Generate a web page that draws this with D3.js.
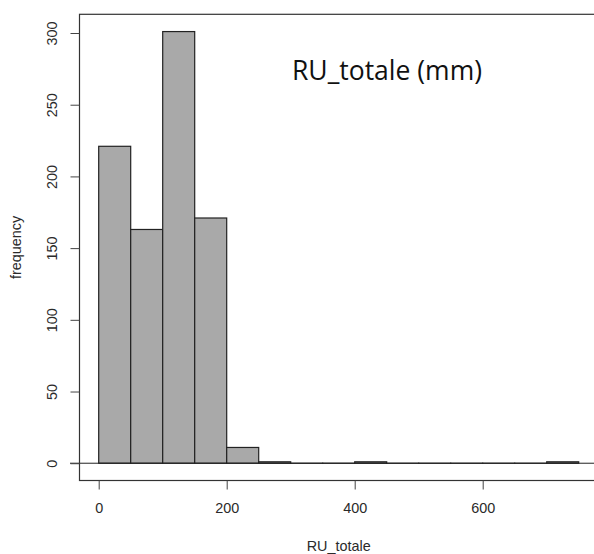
<!DOCTYPE html>
<html>
<head>
<meta charset="utf-8">
<script src="https://cdn.jsdelivr.net/npm/d3@7"></script>
<style>
  body { margin: 0; background: #fff; }
  svg { display: block; }
  .tick text { font-family: "Liberation Sans", Arial, sans-serif; font-size: 14.4px; fill: #2a2a2a; }
</style>
</head>
<body>
<div id="chart"></div>
<script>
// histogram bins (width 50) and counts
const breaks = [0, 50, 100, 150, 200, 250, 300, 350, 400, 450, 500, 550, 600, 650, 700, 750];
const counts = [221, 163, 301, 171, 11, 1, 0, 0, 1, 0, 0, 0, 0, 0, 1];
const xTicks = [0, 200, 400, 600];
const yTicks = [0, 50, 100, 150, 200, 250, 300];

const width = 594, height = 554;

const svg = d3.select('#chart').append('svg')
    .attr('width', width)
    .attr('height', height);

// R-style 4% extension of the ranges
const x = d3.scaleLinear()
    .domain([-30, 780])
    .range([79.5, 597.9]);
const y = d3.scaleLinear()
    .domain([-12.04, 313.04])
    .range([480.5, 14.3]);

const bins = counts.map((c, i) => ({ x0: breaks[i], x1: breaks[i + 1], n: c }));

// bars
svg.selectAll('rect.bar')
    .data(bins)
    .enter()
    .append('rect')
    .attr('class', 'bar')
    .attr('x', d => x(d.x0))
    .attr('y', d => y(d.n))
    .attr('width', d => x(d.x1) - x(d.x0))
    .attr('height', d => Math.max(0.01, y(0) - y(d.n)))
    .style('fill', '#a9a9a9')
    .style('stroke', '#222')
    .style('stroke-width', 1.2);

// zero line
svg.append('line')
    .attr('x1', 70).attr('x2', width)
    .attr('y1', y(0)).attr('y2', y(0))
    .style('stroke', '#222')
    .style('stroke-width', 1);

// box
svg.append('rect')
    .attr('x', x(-30))
    .attr('y', y(313.04))
    .attr('width', x(780) - x(-30))
    .attr('height', y(-12.04) - y(313.04))
    .style('fill', 'none')
    .style('stroke', '#333')
    .style('stroke-width', 1.2);

// y axis
const yAxis = svg.append('g')
    .attr('transform', 'translate(' + x(-30) + ',0)')
    .call(d3.axisLeft(y).tickValues(yTicks).tickSize(9).tickPadding(14));
yAxis.select('.domain').remove();
yAxis.selectAll('.tick line').style('stroke', '#444');
yAxis.selectAll('.tick text')
    .attr('transform', 'rotate(-90)')
    .attr('x', 0)
    .attr('y', -28)
    .attr('dy', '0.35em')
    .style('text-anchor', 'middle');

// x axis
const xAxis = svg.append('g')
    .attr('transform', 'translate(0,' + y(-12.04) + ')')
    .call(d3.axisBottom(x).tickValues(xTicks).tickSize(9).tickPadding(13));
xAxis.select('.domain').remove();
xAxis.selectAll('.tick line').style('stroke', '#444');

// axis titles
svg.append('text')
    .attr('x', (x(-30) + x(780)) / 2)
    .attr('y', 551)
    .style('text-anchor', 'middle')
    .style('font-family', '"Liberation Sans", Arial, sans-serif')
    .style('font-size', '14.4px')
    .style('fill', '#2a2a2a')
    .text('RU_totale');

svg.append('text')
    .attr('transform', 'translate(21,' + ((y(313.04) + y(-12.04)) / 2) + ') rotate(-90)')
    .style('text-anchor', 'middle')
    .style('font-family', '"Liberation Sans", Arial, sans-serif')
    .style('font-size', '14.4px')
    .style('fill', '#2a2a2a')
    .text('frequency');

// title
svg.append('text')
    .attr('x', 292)
    .attr('y', 80)
    .style('font-family', '"Open Sans", "Noto Sans", sans-serif')
    .style('font-size', '26.5px')
    .style('fill', '#111')
    .text('RU_totale (mm)');
</script>
</body>
</html>
